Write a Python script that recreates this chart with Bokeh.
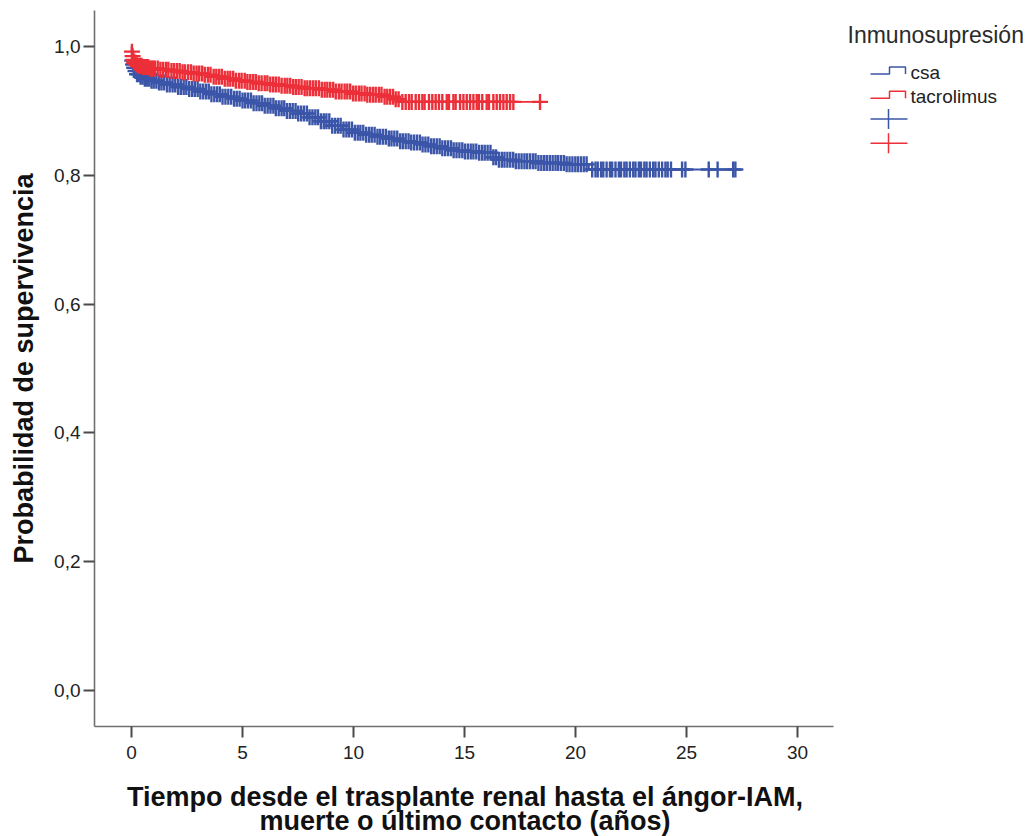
import numpy as np
from bokeh.plotting import figure
from bokeh.layouts import row, column
from bokeh.models import Range1d, FixedTicker
from bokeh.core.properties import value
from bokeh.embed import file_html
from bokeh.resources import INLINE

# Kaplan-Meier survival estimates (step curves): time in years, survival probability
csa_time = [0, 0.01, 0.03, 0.06, 0.1, 0.16, 0.25, 0.4, 0.6, 0.85, 1.2, 1.6, 2.0, 2.5,
            3.0, 3.5, 4.0, 4.5, 5.0, 5.5, 6.0, 6.5, 7.0, 7.5, 8.0, 8.5, 9.0, 9.5,
            10.0, 10.5, 11.0, 11.5, 12.0, 12.5, 13.0, 13.5, 14.0, 14.5, 15.0, 15.6,
            16.3, 16.5, 17.2, 18.3, 19.5, 20.6, 27.2]
csa_surv = [1.0, 0.985, 0.978, 0.972, 0.967, 0.962, 0.957, 0.953, 0.950, 0.947, 0.944,
            0.941, 0.937, 0.934, 0.930, 0.926, 0.922, 0.919, 0.916, 0.912, 0.908, 0.904,
            0.900, 0.896, 0.890, 0.884, 0.877, 0.871, 0.866, 0.863, 0.860, 0.857, 0.853,
            0.851, 0.848, 0.845, 0.842, 0.839, 0.837, 0.835, 0.828, 0.824, 0.822, 0.819,
            0.817, 0.809, 0.809]

tac_time = [0, 0.01, 0.03, 0.06, 0.1, 0.18, 0.3, 0.5, 0.8, 1.2, 1.7, 2.2, 2.7, 3.2,
            3.7, 4.2, 4.7, 5.2, 5.7, 6.2, 6.7, 7.2, 7.8, 8.5, 9.2, 9.9, 10.6, 11.3,
            11.8, 12.1, 18.4]
tac_surv = [1.0, 0.992, 0.985, 0.979, 0.975, 0.972, 0.970, 0.968, 0.966, 0.964, 0.962,
            0.960, 0.958, 0.956, 0.953, 0.950, 0.947, 0.945, 0.943, 0.941, 0.939, 0.937,
            0.935, 0.933, 0.930, 0.927, 0.925, 0.922, 0.918, 0.914, 0.914]

# Censored follow-up times (years)
csa_censored = [
    0.03, 0.07, 0.12, 0.18, 0.25, 0.33, 0.41, 0.5, 0.6, 0.7, 0.8, 0.9, 1.0, 1.12, 1.24,
    1.35, 1.47, 1.6, 1.72, 1.85, 1.97, 2.1, 2.22, 2.35, 2.47, 2.6, 2.73, 2.85, 2.98, 3.1,
    3.23, 3.36, 3.48, 3.6, 3.73, 3.86, 3.98, 4.1, 4.23, 4.36, 4.49, 4.62, 4.74, 4.87, 5.0,
    5.12, 5.25, 5.38, 5.5, 5.63, 5.76, 5.88, 6.0, 6.13, 6.26, 6.39, 6.5, 6.63, 6.76, 6.88,
    7.0, 7.13, 7.26, 7.39, 7.51, 7.64, 7.77, 7.9, 8.02, 8.15, 8.28, 8.4, 8.53, 8.66, 8.78,
    8.91, 9.04, 9.17, 9.3, 9.42, 9.55, 9.68, 9.8, 9.93, 10.06, 10.19, 10.31, 10.44, 10.57,
    10.7, 10.82, 10.95, 11.08, 11.2, 11.33, 11.46, 11.59, 11.71, 11.84, 11.97, 12.1, 12.22,
    12.35, 12.48, 12.6, 12.73, 12.86, 12.99, 13.11, 13.24, 13.37, 13.5, 13.62, 13.75,
    13.88, 14.0, 14.13, 14.26, 14.39, 14.51, 14.64, 14.77, 14.9, 15.02, 15.15, 15.28,
    15.4, 15.53, 15.66, 15.79, 15.91, 16.04, 16.17, 16.3, 16.42, 16.55, 16.68, 16.8,
    16.93, 17.06, 17.19, 17.31, 17.44, 17.57, 17.7, 17.82, 17.95, 18.08, 18.2, 18.33,
    18.46, 18.59, 18.71, 18.84, 18.97, 19.1, 19.22, 19.35, 19.48, 19.6, 19.73, 19.86,
    19.99, 20.11, 20.24, 20.37, 20.5, 20.75, 20.9, 21.0, 21.15, 21.25, 21.4, 21.55,
    21.65, 21.8, 21.95, 22.05, 22.2, 22.3, 22.45, 22.6, 22.7, 22.85, 22.95, 23.1, 23.2,
    23.35, 23.5, 23.6, 23.75, 23.9, 24.05, 24.15, 24.3, 24.8, 24.95, 26.0, 26.4, 27.1,
    27.2]

tac_censored = [
    0.02, 0.05, 0.08, 0.12, 0.17, 0.22, 0.3, 0.38, 0.45, 0.52, 0.6, 0.68, 0.75, 0.83,
    0.9, 0.98, 1.05, 1.18, 1.3, 1.42, 1.55, 1.66, 1.8, 1.92, 2.05, 2.17, 2.3, 2.41, 2.55,
    2.68, 2.8, 2.93, 3.05, 3.18, 3.3, 3.44, 3.56, 3.7, 3.82, 3.95, 4.07, 4.2, 4.33, 4.45,
    4.58, 4.7, 4.84, 4.96, 5.1, 5.22, 5.35, 5.48, 5.6, 5.73, 5.86, 6.0, 6.12, 6.25, 6.38,
    6.5, 6.63, 6.76, 6.9, 7.02, 7.15, 7.28, 7.4, 7.53, 7.66, 7.8, 7.92, 8.05, 8.18, 8.3,
    8.44, 8.57, 8.7, 8.82, 8.95, 9.08, 9.2, 9.34, 9.46, 9.6, 9.72, 9.85, 9.98, 10.1,
    10.24, 10.36, 10.5, 10.62, 10.75, 10.88, 11.0, 11.14, 11.26, 11.4, 11.52, 11.65,
    11.78, 11.9, 12.03, 12.2, 12.35, 12.5, 12.62, 12.8, 12.95, 13.1, 13.2, 13.4, 13.55,
    13.7, 13.85, 14.0, 14.2, 14.3, 14.5, 14.6, 14.8, 14.95, 15.1, 15.25, 15.4, 15.55,
    15.65, 15.8, 16.0, 16.1, 16.3, 16.45, 16.6, 16.75, 16.9, 17.05, 17.2, 18.4]

group_names = ["csa", "tacrolimus"]
group_colors = ["#3b55a8", "#ec2f38"]

x_ticks = [0, 5, 10, 15, 20, 25, 30]
y_ticks = [0.0, 0.2, 0.4, 0.6, 0.8, 1.0]
y_tick_labels = ["0,0", "0,2", "0,4", "0,6", "0,8", "1,0"]

legend_title = "Inmunosupresión"
x_label_lines = ["Tiempo desde el trasplante renal hasta el ángor-IAM,",
                 "muerte o último contacto (años)"]
y_label = "Probabilidad de supervivencia"

FONT = "Liberation Sans"
WIDTH_MAIN, WIDTH_LEGEND = 840, 189
HEIGHT_TOP, HEIGHT_XTITLE = 766, 70
BORDER_LEFT, BORDER_RIGHT, BORDER_TOP, BORDER_BOTTOM = 94, 7, 10, 40
FRAME_BOTTOM = HEIGHT_TOP - BORDER_BOTTOM


def surv_at(times, surv, t):
    """Survival estimate of a step curve at the given times."""
    idx = np.searchsorted(np.asarray(times), np.asarray(t), side="right") - 1
    return np.asarray(surv)[idx]


def blank_panel(width, height, x_range, y_range, **borders):
    f = figure(width=width, height=height, x_range=x_range, y_range=y_range,
               x_axis_type=None, y_axis_type=None, output_backend="svg",
               toolbar_location=None, **borders)
    f.outline_line_color = None
    f.background_fill_color = "white"
    f.border_fill_color = "white"
    return f


p = figure(width=WIDTH_MAIN, height=HEIGHT_TOP,
           x_range=Range1d(-1.667, 31.62), y_range=Range1d(-0.0559, 1.0559),
           output_backend="svg", toolbar_location=None,
           min_border_left=BORDER_LEFT, min_border_right=BORDER_RIGHT,
           min_border_top=BORDER_TOP, min_border_bottom=BORDER_BOTTOM)
p.outline_line_color = None
p.grid.visible = False
p.background_fill_color = "white"
p.border_fill_color = "white"

curves = [(csa_time, csa_surv, csa_censored), (tac_time, tac_surv, tac_censored)]
for (times, surv, cens), color in zip(curves, group_colors):
    p.step(times, surv, mode="after", line_color=color, line_width=1.8)
    p.scatter(cens, surv_at(times, surv, cens), marker="cross", size=16,
              line_color=color, line_width=2.4)

for ax in (p.xaxis[0], p.yaxis[0]):
    ax.axis_line_color = "#707070"
    ax.axis_line_width = 1.6
    ax.major_tick_line_color = "#4a4a4a"
    ax.major_tick_line_width = 2
    ax.major_tick_in = 0
    ax.major_tick_out = 11
    ax.minor_tick_line_color = None
    ax.major_label_text_font = FONT
    ax.major_label_text_font_size = "19px"
    ax.major_label_text_color = "#222222"
    ax.axis_label_text_font = FONT
    ax.axis_label_text_font_style = "bold"
    ax.axis_label_text_font_size = "27px"
    ax.axis_label_text_color = "#111111"

p.xaxis.ticker = FixedTicker(ticks=x_ticks)
p.xaxis.major_label_standoff = 8

p.yaxis.ticker = FixedTicker(ticks=y_ticks)
p.yaxis.major_label_overrides = {t: lab for t, lab in zip(y_ticks, y_tick_labels)}
p.yaxis.major_label_standoff = 3
p.yaxis.axis_label = y_label
p.yaxis.axis_label_standoff = 12

# Legend panel; its data coordinates equal page pixels (y grows downward)
leg = blank_panel(WIDTH_LEGEND, HEIGHT_TOP, Range1d(0, WIDTH_LEGEND),
                  Range1d(FRAME_BOTTOM, BORDER_TOP),
                  min_border_left=0, min_border_right=0,
                  min_border_top=BORDER_TOP, min_border_bottom=BORDER_BOTTOM)

leg.text([7], [34], text=[legend_title], text_font=value(FONT), text_font_size="23px",
         text_color="#2a2a2a", text_baseline="alphabetic")

row_centers = [70, 94.3, 118.5, 142.7]
icon_left, icon_step, icon_right = 30, 49, 65
for name, color, yc in zip(group_names, group_colors, row_centers[:2]):
    lo, hi = yc + 3.5, yc - 3.5
    leg.line([icon_left, icon_step, icon_step, icon_right, icon_right],
             [lo, lo, hi, hi, lo], line_color=color, line_width=1.5)
    leg.text([70], [yc + 2], text=[name], text_font=value(FONT), text_font_size="19px",
             text_color="#222222", text_baseline="alphabetic")

for color, yc in zip(group_colors, row_centers[2:]):
    leg.segment(x0=[icon_left, 48], y0=[yc, yc - 10], x1=[67, 48], y1=[yc, yc + 10],
                line_color=color, line_width=1.5)

# Two-line x axis title strip below the plot; data coordinates equal page pixels
frame_right = WIDTH_MAIN - BORDER_RIGHT
page_w = WIDTH_MAIN + WIDTH_LEGEND
xt = blank_panel(page_w, HEIGHT_XTITLE, Range1d(BORDER_LEFT, frame_right),
                 Range1d(HEIGHT_TOP + HEIGHT_XTITLE, HEIGHT_TOP),
                 min_border_left=BORDER_LEFT, min_border_right=page_w - frame_right,
                 min_border_top=0, min_border_bottom=0)
xt.text([(BORDER_LEFT + frame_right) / 2 + 1] * 2, [796, 820], text=x_label_lines,
        text_font=value(FONT), text_font_size="27px", text_font_style=value("bold"),
        text_color="#111111", text_align="center", text_baseline="middle")

layout = column(row(p, leg), xt)
open("out.html", "w").write(file_html(layout, INLINE))
